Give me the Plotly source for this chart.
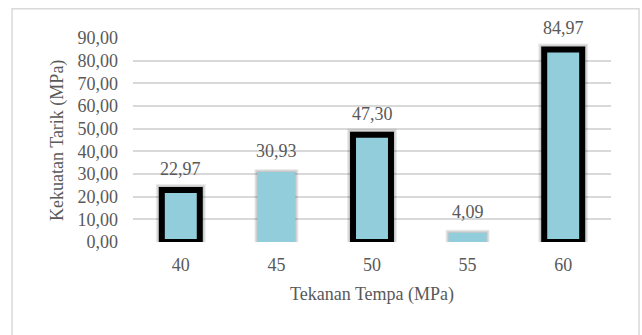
import plotly.graph_objects as go

# Forging pressure (MPa) vs tensile strength (MPa)
pressure = [40, 45, 50, 55, 60]
strength = [22.97, 30.93, 47.30, 4.09, 84.97]
outlined = [True, False, True, False, True]
y_ticks = [0, 10, 20, 30, 40, 50, 60, 70, 80, 90]

FONT = "Liberation Serif, Times New Roman, serif"
TXT = "#595959"
FILL = "#92CDDC"
STEP = 5
BAR_W = 0.397 * STEP

fig = go.Figure()

# soft shadow layers behind the bars
for k in (1, 2, 3):
    widths = [(6 if o else 0) + 2 * k for o in outlined]
    fig.add_trace(go.Bar(
        x=pressure, y=strength, width=BAR_W,
        marker=dict(color="rgba(0,0,0,0)",
                    line=dict(color="rgba(0,0,0,0.08)", width=widths)),
        hoverinfo="skip", showlegend=False,
    ))

# main bars
fig.add_trace(go.Bar(
    x=pressure, y=strength, width=BAR_W,
    marker=dict(color=FILL,
                line=dict(color=["#000000" if o else FILL for o in outlined],
                          width=[6 if o else 0 for o in outlined])),
    showlegend=False,
))

# value labels above each bar
for p, v in zip(pressure, strength):
    fig.add_annotation(x=p, y=v, text=f"{v:.2f}".replace(".", ","),
                       showarrow=False, yanchor="middle", yshift=21,
                       font=dict(family=FONT, size=18, color=TXT))

# axis titles
fig.add_annotation(x=-0.159, y=0.5, xref="paper", yref="paper",
                   text="Kekuatan Tarik (MPa)", textangle=-90, showarrow=False,
                   xanchor="center", yanchor="middle",
                   font=dict(family=FONT, size=18, color=TXT))
fig.add_annotation(x=0.5, y=-0.257, xref="paper", yref="paper",
                   text="Tekanan Tempa (MPa)", showarrow=False,
                   xanchor="center", yanchor="middle",
                   font=dict(family=FONT, size=18, color=TXT))

# chart frame
fig.add_shape(type="rect", xref="paper", yref="paper",
              x0=-0.253, x1=1.0586, y0=-0.5, y1=1.143,
              line=dict(color="#D9D9D9", width=1.5), layer="below")

fig.update_layout(
    width=642, height=335,
    margin=dict(l=133, r=31, t=38, b=93),
    barmode="overlay",
    separators=",.",
    paper_bgcolor="white", plot_bgcolor="white",
    font=dict(family=FONT, size=18, color=TXT),
    xaxis=dict(range=[pressure[0] - STEP / 2, pressure[-1] + STEP / 2],
               tickvals=pressure, showgrid=False, showline=False, zeroline=False,
               ticks="", ticklabelstandoff=10,
               tickfont=dict(family=FONT, size=18, color=TXT)),
    yaxis=dict(range=[0, 90], tickvals=y_ticks, tickformat=".2f",
               showgrid=True, gridcolor="#D9D9D9", gridwidth=1.5,
               zeroline=False, showline=False, ticks="",
               ticklabelstandoff=14,
               tickfont=dict(family=FONT, size=18, color=TXT)),
)

fig.write_html("out.html")
